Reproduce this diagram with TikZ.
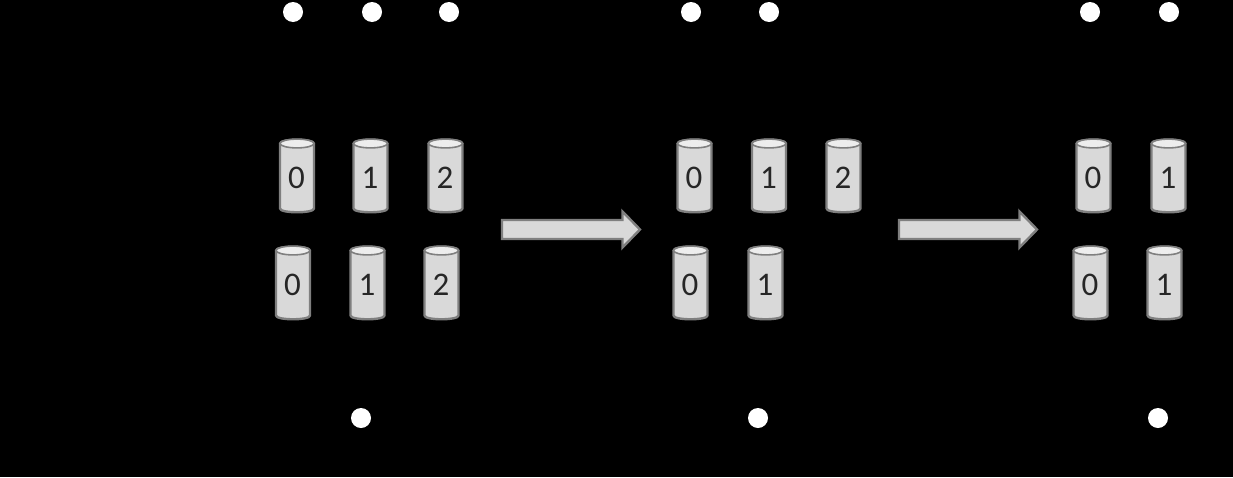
\documentclass[tikz,border=0pt]{standalone}
\usepackage{fontspec}
\setmainfont{Carlito}
\definecolor{bodyfill}{HTML}{D9D9D9}
\definecolor{edge}{HTML}{7F7F7F}
\definecolor{topfill}{HTML}{EDEDED}
\definecolor{numink}{HTML}{262626}
\tikzset{
  x=1pt,y=-1pt,
  dotnode/.style={circle,fill=white,draw=none,minimum size=20pt,inner sep=0pt},
  numlabel/.style={text=numink,font=\fontsize{33}{33}\selectfont,inner sep=0pt,anchor=base},
  cylbody/.style={fill=bodyfill,draw=edge,line width=2.4pt,line join=round},
  cyltop/.style={fill=topfill,draw=edge,line width=1.6pt},
  bigarrow/.style={fill=bodyfill,draw=edge,line width=2.4pt,line join=miter},
  pics/cyl/.style args={#1/#2}{code={
    \path[cylbody] (-17,-32.5) .. controls (-17,-37.5) and (17,-37.5) .. (17,-32.5)
      -- (17,32.5) .. controls (17,37.5) and (-17,37.5) .. (-17,32.5) -- cycle;
    \path[cyltop] (0,-32.5) ellipse [x radius=17,y radius=4.4];
    \node[numlabel] (#1) at (-0.5,12.5) {#2};
  }}
}
\begin{document}
\begin{tikzpicture}
\path[use as bounding box,fill=black] (0,0) rectangle (1233,477);
\node[dotnode] (d1) at (293,12) {};
\node[dotnode] (d2) at (372,12) {};
\node[dotnode] (d3) at (449,12) {};
\node[dotnode] (d4) at (691,12) {};
\node[dotnode] (d5) at (769,12) {};
\node[dotnode] (d6) at (1090,12) {};
\node[dotnode] (d7) at (1169,12) {};
\node[dotnode] (d8) at (361,418) {};
\node[dotnode] (d9) at (758,418) {};
\node[dotnode] (d10) at (1158,418) {};
\pic at (297,176) {cyl={a0/0}};
\pic at (370.5,176) {cyl={a1/1}};
\pic at (445.5,176) {cyl={a2/2}};
\pic at (293,283) {cyl={b0/0}};
\pic at (367.5,283) {cyl={b1/1}};
\pic at (441.5,283) {cyl={b2/2}};
\pic at (694.5,176) {cyl={c0/0}};
\pic at (769,176) {cyl={c1/1}};
\pic at (843.5,176) {cyl={c2/2}};
\pic at (690.5,283) {cyl={e0/0}};
\pic at (765.5,283) {cyl={e1/1}};
\pic at (1093.5,176) {cyl={f0/0}};
\pic at (1168.5,176) {cyl={f1/1}};
\pic at (1090.5,283) {cyl={g0/0}};
\pic at (1164.5,283) {cyl={g1/1}};
\path[bigarrow] (502,220) -- (622.5,220) -- (622.5,211.5) -- (640,229.5) -- (622.5,247.5) -- (622.5,239) -- (502,239) -- cycle;
\path[bigarrow] (899,220) -- (1019.5,220) -- (1019.5,211.5) -- (1037,229.5) -- (1019.5,247.5) -- (1019.5,239) -- (899,239) -- cycle;
\end{tikzpicture}
\end{document}
